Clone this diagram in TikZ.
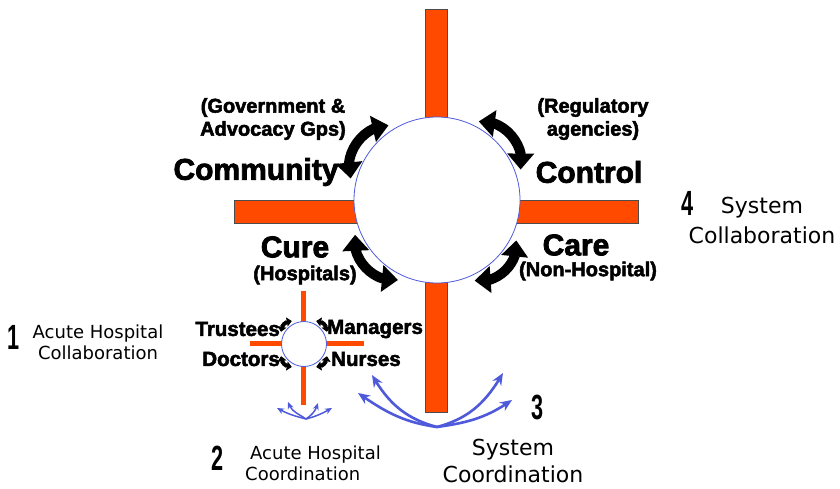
\documentclass[tikz,border=0pt]{standalone}
\usepackage{fontspec}
\usetikzlibrary{arrows.meta,bending}

\setmainfont{Liberation Sans}[BoldFeatures={FakeBold=2.5}]
\newfontfamily\handfont{DejaVu Sans}
\newfontfamily\numfont{Liberation Sans}[FakeStretch=0.62]

\definecolor{barorange}{RGB}{255,74,0}
\definecolor{ringblue}{RGB}{78,90,218}

\begin{document}
\begin{tikzpicture}[x=1pt, y=1pt,
every node/.style={inner sep=0pt, align=center},
big/.style={font=\fontsize{30}{32}\selectfont\bfseries},
sub/.style={font=\fontsize{20}{23}\selectfont\bfseries},
staff/.style={font=\fontsize{20.5}{22}\selectfont\bfseries},
note/.style={font=\handfont\fontsize{18}{21}\selectfont},
wide note/.style={font=\handfont\fontsize{22}{#1}\selectfont},
num/.style={font=\numfont\bfseries\fontsize{35}{35}\selectfont},
ring/.style={circle, draw=ringblue, fill=white, line width=0.8pt},
swing/.style={line width=10pt, {Triangle[length=16pt,width=26pt]}-{Triangle[length=16pt,width=26pt]}},
small swing/.style={line width=4pt, {Triangle[length=5pt,width=9pt]}-{Triangle[length=5pt,width=9pt]}},
spread/.style={draw=ringblue, line width=2.6pt, -{Stealth[length=12pt,width=10pt]}},
small spread/.style={draw=ringblue, line width=1.5pt, -{Stealth[length=7pt,width=6pt]}}
]
\useasboundingbox (0,0) rectangle (840,488);

% system cross
\draw[fill=barorange, draw=black!70, line width=0.8pt] (425,76) rectangle (447,479);
\draw[fill=barorange, draw=black!70, line width=0.8pt] (234,265) rectangle (638,288);
\node (hub) [ring, minimum size=166pt] at (437,288) {};

% hospital cross
\fill[barorange] (301,83) rectangle (306,197);
\fill[barorange] (250,142) rectangle (364,147);
\node (ward) [ring, minimum size=45pt] at (304,144) {};

\foreach \a/\b [count=\k] in {20/62, 123/166, 203/244, 295/333}{
  \path (hub.center) ++(\a:89) coordinate (p\k);
  \path (hub.center) ++(\b:89) coordinate (q\k);
  \draw[swing] (p\k) to[bend right=55] (q\k);
}
\foreach \a/\b [count=\k] in {28/62, 118/152, 208/242, 298/332}{
  \path (ward.center) ++(\a:26) coordinate (r\k);
  \path (ward.center) ++(\b:26) coordinate (s\k);
  \draw[small swing] (r\k) to[bend right=50] (s\k);
}

\node (gov) [sub] at (273,369) {(Government \&\\Advocacy Gps)};
\node (community) [big] at (256,316) {Community};
\node (reg) [sub] at (593,369) {(Regulatory\\agencies)};
\node (control) [big] at (589,316) {Control};
\node (cure) [big] at (295,241) {Cure};
\node (hosp) [sub] at (305,213) {(Hospitals)};
\node (care) [big] at (576,243) {Care};
\node (nonhosp) [sub] at (588,217) {(Non-Hospital)};

\node (trustees) [staff, anchor=east] at (280,159) {Trustees};
\node (managers) [staff, anchor=west] at (327,159) {Managers};
\node (doctors) [staff, anchor=east] at (280,129) {Doctors};
\node (nurses) [staff, anchor=west] at (331,129) {Nurses};

% coordination spreads
\coordinate (base) at (437,61);
\foreach \x/\y/\o/\i [count=\k] in {358/95/172/-35, 372/113/165/-60, 503/115/15/-120, 512/88/8/-145}{
  \coordinate (t\k) at (\x,\y);
  \draw[spread] (base) to[out=\o, in=\i] (t\k);
}
\coordinate (wee) at (306,69);
\foreach \x/\y/\o/\i [count=\k] in {277/80/165/-30, 288/86/145/-75, 318/85/35/-105, 332/80/15/-150}{
  \coordinate (u\k) at (\x,\y);
  \draw[small spread] (wee) to[out=\o, in=\i] (u\k);
}

\node (n1) [num] at (14,151) {1};
\node (acute1) [note] at (98,146) {Acute Hospital\\Collaboration};
\node (n2) [num] at (218,30) {2};
\node (acute2) [note, align=left, anchor=west] at (245,25) {\hspace{5pt}Acute Hospital\\Coordination};
\node (n3) [num] at (538,81) {3};
\node (sys3) [wide note=27] at (513,27) {System\\Coordination};
\node (n4) [num] at (688,285) {4};
\node (sys4) [wide note=30] at (762,268) {System\\Collaboration};

\end{tikzpicture}
\end{document}
